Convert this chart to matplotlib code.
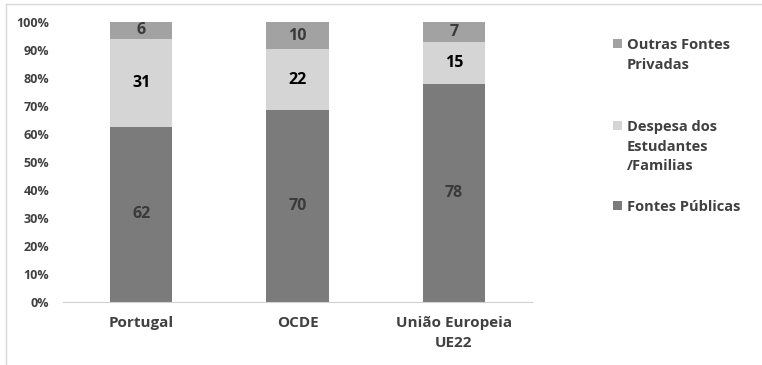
import numpy as np
import matplotlib
matplotlib.use("Agg")
from matplotlib import pyplot as plt
from matplotlib.lines import Line2D
from matplotlib.patches import Rectangle

## data
categories = ["Portugal", "OCDE", "União Europeia\nUE22"]
fontes_publicas = [62, 70, 78]
despesa_familias = [31, 22, 15]
outras_privadas = [6, 10, 7]

series_names = ["Fontes Públicas", "Despesa dos\nEstudantes\n/Familias", "Outras Fontes\nPrivadas"]
series_colors = ["#7b7b7b", "#d5d5d5", "#a2a2a2"]
label_colors = ["#3a3a3a", "#000000", "#3a3a3a"]

plt.rcParams['font.family'] = ['Open Sans', 'DejaVu Sans']
plt.rcParams['font.weight'] = 'bold'
text_grey = "#404040"

fig = plt.figure(figsize=(7.62, 3.65), dpi=100)
ax = fig.add_axes([63/762, 63/365, 469/762, 280/365])

values = np.array([fontes_publicas, despesa_familias, outras_privadas], dtype=float)
shares = values / values.sum(axis=0)  # 100% stacked
x = np.arange(len(categories))
bottom = np.zeros(len(categories))
for i in range(len(series_names)):
	bars = ax.bar(x, shares[i], 0.4, bottom=bottom, color=series_colors[i], zorder=2)
	for j, b in enumerate(bars):
		ax.text(b.get_x() + b.get_width()/2, bottom[j] + shares[i][j]/2, "%d" % values[i][j],
			ha='center', va='center', fontsize=11.5, fontweight='bold', color=label_colors[i])
	bottom = bottom + shares[i]

ax.set_xlim(-0.5, 2.5)
ax.set_ylim(0, 1)
ax.set_yticks(np.arange(0, 1.01, 0.1))
ax.set_yticklabels(["%d%%" % round(t*100) for t in np.arange(0, 1.01, 0.1)])
ax.set_xticks(x)
ax.set_xticklabels(categories, linespacing=1.55)
ax.tick_params(axis='y', length=0, pad=10, labelsize=9, labelcolor=text_grey)
ax.tick_params(axis='x', length=0, pad=10, labelsize=11, labelcolor=text_grey)
for s in ['top', 'right', 'left']:
	ax.spines[s].set_visible(False)
ax.spines['bottom'].set_color("#d0d0d0")

# legend, placed like the original (series listed top to bottom)
legend_y = [205, 125, 43]
for name, col, ly in zip(series_names, series_colors, legend_y):
	fy = 1 - ly/365
	fig.patches.append(Rectangle((613/762, fy - 4.5/365), 9/762, 9/365, transform=fig.transFigure,
		facecolor=col, edgecolor='none'))
	fig.text(627/762, fy + 5/365, name, ha='left', va='top', fontsize=10.5, fontweight='bold',
		color=text_grey, linespacing=1.52)

# outer chart border
fig.add_artist(Line2D([6/762, 1], [1 - 4/365, 1 - 4/365], transform=fig.transFigure, color="#d9d9d9", lw=1))
fig.add_artist(Line2D([6/762, 6/762], [0, 1 - 4/365], transform=fig.transFigure, color="#d9d9d9", lw=1))

fig.savefig("out.png", dpi=100)
